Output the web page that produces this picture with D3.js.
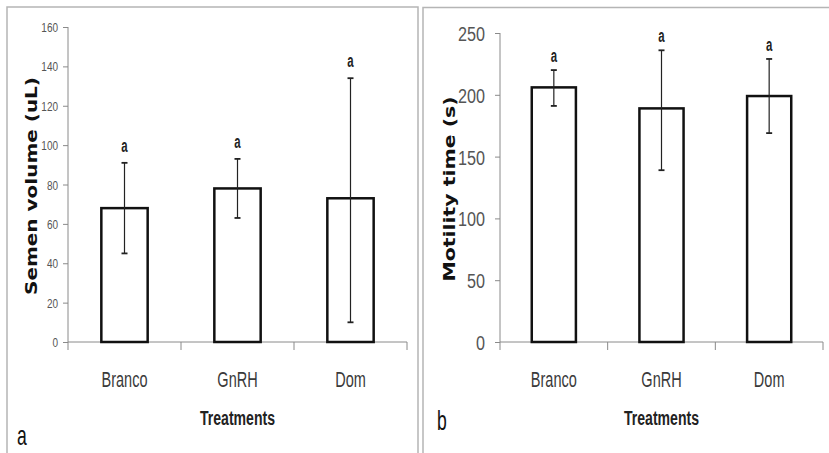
<!DOCTYPE html>
<html>
<head>
<meta charset="utf-8">
<script src="https://cdn.jsdelivr.net/npm/d3@7"></script>
<style>
  body { margin: 0; background: #fff; }
  svg { display: block; }
</style>
</head>
<body>
<div id="chart"></div>
<script>
// values
const categories = ["Branco", "GnRH", "Dom"];
const letters = ["a", "a", "a"];

const volumeMean = [68, 78, 73];
const volumeLow = [45, 63, 10];
const volumeHigh = [91, 93, 134];
const volumeTicks = [0, 20, 40, 60, 80, 100, 120, 140, 160];

const motilityMean = [206, 189, 199];
const motilityLow = [191, 139, 169];
const motilityHigh = [220, 236, 229];
const motilityTicks = [0, 50, 100, 150, 200, 250];

const W = 829, H = 453;
const sans = "'Liberation Sans', Arial, sans-serif";

const svg = d3.select("#chart").append("svg")
    .attr("width", W)
    .attr("height", H);

// panel frames
svg.append("rect")
    .attr("x", 7).attr("y", 7).attr("width", 411).attr("height", 460)
    .attr("fill", "none").attr("stroke", "#b5b5b5").attr("stroke-width", 1.5);
svg.append("rect")
    .attr("x", 423).attr("y", 7.5).attr("width", 420).attr("height", 460)
    .attr("fill", "none").attr("stroke", "#b5b5b5").attr("stroke-width", 1.5);

const drawPanel = (p) => {
    const g = svg.append("g");

    const x = d3.scaleBand().domain(categories).range([p.left, p.right]).padding(0);
    const y = d3.scaleLinear().domain([0, p.max]).range([p.bottom, p.top]);

    const rows = categories.map((c, i) => ({
        cat: c, mean: p.mean[i], low: p.low[i], high: p.high[i], letter: letters[i]
    }));

    // y axis
    const yAxis = d3.axisLeft(y).tickValues(p.ticks).tickSize(5).tickPadding(0).tickFormat(d3.format("d"));
    const yG = g.append("g")
        .attr("transform", `translate(${p.left},0)`)
        .call(yAxis);
    yG.select(".domain").attr("stroke", "#8a8a8a").attr("d", `M0,${p.top}V${p.bottom}`);
    yG.selectAll(".tick line").attr("stroke", "#8a8a8a");
    yG.selectAll(".tick text")
        .attr("x", null).attr("dy", "0.36em")
        .attr("transform", `translate(${-p.tickGap},0) scale(${p.tickSx},1)`)
        .attr("font-family", sans)
        .attr("font-size", p.tickFont)
        .attr("fill", "#555");

    // x axis: baseline plus boundary ticks
    const xAxis = d3.axisBottom(x).tickSize(0);
    const xG = g.append("g")
        .attr("transform", `translate(0,${p.bottom})`)
        .call(xAxis);
    xG.select(".domain").attr("stroke", "#8a8a8a").attr("d", `M${p.left},0H${p.right}`);
    xG.selectAll(".tick text")
        .attr("y", null).attr("dy", null)
        .attr("transform", `translate(0,45) scale(0.66,1)`)
        .attr("font-family", sans)
        .attr("font-size", 22)
        .attr("fill", "#3a3a3a");
    const bounds = [x.range()[0]].concat(categories.map(c => x(c) + x.bandwidth()));
    xG.selectAll("line.bound").data(bounds).join("line")
        .attr("class", "bound")
        .attr("x1", d => d).attr("x2", d => d)
        .attr("y1", 0).attr("y2", 8)
        .attr("stroke", "#8a8a8a");

    // bars
    const bw = x.bandwidth() * 0.41;
    g.append("g").selectAll("rect").data(rows).join("rect")
        .attr("x", d => x(d.cat) + (x.bandwidth() - bw) / 2)
        .attr("y", d => y(d.mean))
        .attr("width", bw)
        .attr("height", d => y(0) - y(d.mean))
        .attr("fill", "#fff")
        .attr("stroke", "#111")
        .attr("stroke-width", 2.5);

    // error bars
    const eb = g.append("g").attr("stroke", "#222").attr("stroke-width", 1.2);
    rows.forEach(d => {
        const cx = x(d.cat) + x.bandwidth() / 2;
        eb.append("line").attr("x1", cx).attr("x2", cx).attr("y1", y(d.low)).attr("y2", y(d.high));
        eb.append("line").attr("x1", cx - 3).attr("x2", cx + 3).attr("y1", y(d.low)).attr("y2", y(d.low)).attr("stroke-width", 1.8);
        eb.append("line").attr("x1", cx - 3).attr("x2", cx + 3).attr("y1", y(d.high)).attr("y2", y(d.high)).attr("stroke-width", 1.8);
    });

    // significance letters
    g.append("g").selectAll("text").data(rows).join("text")
        .attr("transform", d => `translate(${x(d.cat) + x.bandwidth() / 2},${y(d.high) - p.letterGap}) scale(0.6,1)`)
        .attr("text-anchor", "middle")
        .attr("font-family", sans)
        .attr("font-size", 19)
        .attr("font-weight", "bold")
        .attr("fill", "#222")
        .text(d => d.letter);

    // y title
    g.append("text")
        .attr("transform", `translate(${p.titleX},${p.titleY}) rotate(-90)`)
        .attr("text-anchor", "middle")
        .attr("font-family", "'DejaVu Sans', Verdana, sans-serif")
        .attr("font-weight", "bold")
        .attr("font-size", 15)
        .attr("textLength", p.titleLen)
        .attr("lengthAdjust", "spacingAndGlyphs")
        .attr("fill", "#111")
        .text(p.title);

    // x title
    g.append("text")
        .attr("transform", `translate(${(p.left + p.right) / 2},425) scale(0.67,1)`)
        .attr("text-anchor", "middle")
        .attr("font-family", sans)
        .attr("font-weight", "bold")
        .attr("font-size", 21)
        .attr("fill", "#222")
        .text("Treatments");

    // panel letter
    g.append("text")
        .attr("transform", `translate(${p.tagX},${p.tagY}) scale(0.65,1)`)
        .attr("font-family", sans)
        .attr("font-size", 27)
        .attr("fill", "#111")
        .text(p.tag);
};

drawPanel({
    mean: volumeMean, low: volumeLow, high: volumeHigh, ticks: volumeTicks,
    max: 160, left: 68, right: 407, top: 27, bottom: 342,
    tickFont: 12.5, tickSx: 0.8, tickGap: 10, letterGap: 11,
    title: "Semen volume (uL)", titleX: 37, titleY: 186, titleLen: 218,
    tag: "a", tagX: 17, tagY: 445
});

drawPanel({
    mean: motilityMean, low: motilityLow, high: motilityHigh, ticks: motilityTicks,
    max: 250, left: 500, right: 823, top: 33, bottom: 342,
    tickFont: 21, tickSx: 0.77, tickGap: 15, letterGap: 8,
    title: "Motility time (s)", titleX: 455, titleY: 189, titleLen: 185,
    tag: "b", tagX: 437, tagY: 430
});
</script>
</body>
</html>
